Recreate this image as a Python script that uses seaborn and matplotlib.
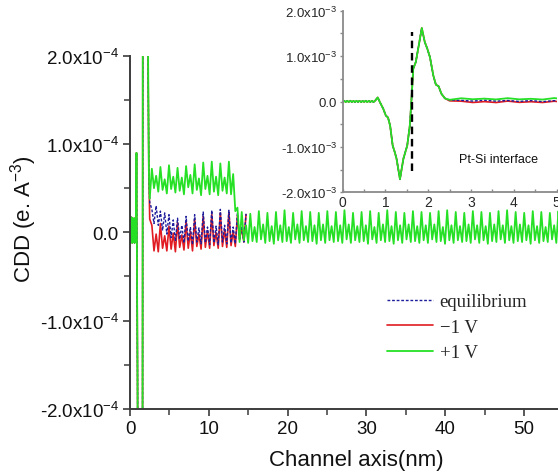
import numpy as np
import pandas as pd
import matplotlib
matplotlib.use("Agg")
import matplotlib.pyplot as plt
from matplotlib.ticker import MultipleLocator, FixedLocator, FixedFormatter
from matplotlib.lines import Line2D
import seaborn as sns

# Charge density difference (CDD) along the channel axis, in units of 1e-5 e/A^3.
# Pt-Si interface profile, common to all three bias conditions.
x_interface = [0.000, 0.036, 0.072, 0.108, 0.144, 0.180, 0.216, 0.252, 0.288, 0.324,
               0.360, 0.396, 0.432, 0.468, 0.504, 0.540, 0.576, 0.612, 0.648, 0.684,
               0.720, 0.756,
               0.82, 0.88, 0.95, 1.01, 1.06, 1.11, 1.17, 1.22, 1.26, 1.34,
               1.42, 1.51, 1.57, 1.61, 1.65, 1.71, 1.78, 1.85, 1.92, 1.98,
               2.04, 2.12, 2.18, 2.24, 2.31, 2.39]
cdd_interface = [0.0, 1.6, -1.2, 1.5, -1.1, 1.7, -1.0, 1.4, -1.2, 1.6,
                 -0.9, 1.5, -1.1, 1.3, -1.0, 1.6, -1.2, 1.4, -0.9, 1.5,
                 -1.1, 1.4,
                 9.0, -3.0, -16, -31, -35, -53, -97, -112, -126, -171,
                 -126, -97, -53, 6, 72, 87, 124, 162, 131, 116,
                 98, 57, 37, 34, 17, 7]

# Silicon channel, sampled every quarter of the 1.086 nm superlattice period
channel_start = 2.5
channel_step = 0.2715

cdd_plus1V = [
    3.8, 7.2, 5.0, 6.4, 4.6, 7.4, 4.8, 6.0,
    4.4, 7.6, 4.9, 6.3, 4.5, 7.3, 4.7, 6.2,
    4.3, 7.5, 5.1, 6.5, 4.4, 7.7, 4.8, 6.1,
    4.2, 7.9, 4.9, 6.4, 4.3, 8.0, 4.6, 6.3,
    4.2, 7.8, 4.7, 6.2, 4.4, 8.0,
    4.3, 6.6, 2.4, 2.8,
    -1.1, 2.3, -0.9, 0.8, -1.2, 2.1, -1.0, 0.6,
    -1.1, 2.4, -0.8, 0.9, -1.2, 2.2, -1.0, 0.7,
    -1.3, 2.3, -0.9, 0.8, -1.1, 2.5, -1.0, 0.6,
    -1.2, 2.2, -0.8, 0.9, -1.2, 2.4, -0.9, 0.7,
    -1.1, 2.3, -1.0, 0.8, -1.3, 2.2, -0.9, 0.9,
    -1.2, 2.4, -0.9, 0.7, -1.1, 2.3, -1.0, 0.8,
    -1.2, 2.5, -0.8, 0.9, -1.2, 2.2, -0.9, 0.7,
    -1.1, 2.3, -1.0, 0.8, -1.3, 2.4, -0.8, 0.6,
    -1.2, 2.2, -0.9, 0.9, -1.1, 2.5, -1.0, 0.7,
    -1.3, 2.3, -0.9, 0.8, -1.2, 2.2, -0.8, 0.9,
    -1.1, 2.4, -1.0, 0.7, -1.2, 2.3, -0.9, 0.8,
    -1.2, 2.2, -0.8, 0.9, -1.1, 2.4, -1.0, 0.6,
    -1.3, 2.5, -0.9, 0.8, -1.2, 2.3, -0.9, 0.7,
    -1.1, 2.2, -1.0, 0.9, -1.2, 2.4, -0.8, 0.8,
    -1.2, 2.3, -0.9, 0.7, -1.3, 2.2, -1.0, 0.9,
    -1.1, 2.4, -0.8, 0.8, -1.2, 2.5, -0.9, 0.7,
    -1.2, 2.3, -1.0, 0.9, -1.1, 2.2, -0.9, 0.8,
    -1.3, 2.4, -0.9, 0.7, -1.2, 2.3, -1.0, 0.6,
    -1.1, 2.2, -0.8, 0.8, -1.2, 2.4, -0.9, 0.7,
]

cdd_minus1V = [
    1.5, 0.8, -2.1, -0.2, -2.2, 1.0, -1.8, -0.4,
    -2.1, 0.7, -1.9, -0.1, -2.2, 1.1, -1.7, -0.3,
    -2.0, 1.2, -1.8, 0.1, -2.1, 1.5, -1.6, -0.2,
    -1.9, 1.8, -1.7, 0.2, -1.8, 2.0, -1.5, 0.0,
    -1.8, 2.2, -1.6, 0.3, -1.7, 2.3, -1.5, 0.1,
    -1.6, 1.9, -0.8, 0.5, -1.1, 2.0,
]

cdd_equilibrium = [
    3.4, 2.6, 1.0, 3.0, 0.8, 2.4, 0.2, 2.2,
    -0.2, 2.0, -0.6, 1.4, -1.0, 1.6, -0.8, 0.8,
    -1.2, 1.8, -1.0, 0.6, -1.4, 2.0, -1.1, 0.5,
    -1.3, 2.3, -1.2, 0.6, -1.4, 2.5, -1.2, 0.7,
    -1.4, 2.6, -1.1, 0.8, -1.3, 2.5, -1.2, 0.6,
    -1.3, 2.2, -0.9, 0.7, -1.1, 2.1,
]

series_names = ["equilibrium", "\u22121 V", "+1 V"]
series_values = [cdd_equilibrium, cdd_minus1V, cdd_plus1V]
series_colors = {"equilibrium": "#1c1c9c", "\u22121 V": "#e01c22", "+1 V": "#25e025"}

main_yticks = [-2e-4, -1e-4, 0.0, 1e-4, 2e-4]
main_yticklabels = ["-2.0x10$^{-4}$", "-1.0x10$^{-4}$", "0.0", "1.0x10$^{-4}$", "2.0x10$^{-4}$"]
inset_yticks = [-2e-3, -1e-3, 0.0, 1e-3, 2e-3]
inset_yticklabels = ["-2.0x10$^{-3}$", "-1.0x10$^{-3}$", "0.0", "1.0x10$^{-3}$", "2.0x10$^{-3}$"]

interface_position = 1.61
interface_marker_span = (-1.52e-3, 1.53e-3)

# Assemble one long table
frames = []
for name, vals in zip(series_names, series_values):
    x_chan = channel_start + channel_step * np.arange(len(vals))
    x_all = np.concatenate([x_interface, x_chan])
    y_all = np.concatenate([cdd_interface, vals]) * 1e-5
    frames.append(pd.DataFrame({"x": x_all, "cdd": y_all, "bias": name}))
df = pd.concat(frames, ignore_index=True)

sns.set_style("ticks")
plt.rcParams["font.family"] = ["Liberation Sans", "DejaVu Sans"]
plt.rcParams["mathtext.fontset"] = "custom"
plt.rcParams["mathtext.rm"] = "Liberation Sans"
plt.rcParams["mathtext.it"] = "Liberation Sans:italic"
plt.rcParams["mathtext.bf"] = "Liberation Sans:bold"
# keep every sub-pixel wiggle of the dense traces
plt.rcParams["path.simplify"] = False

fig = plt.figure(figsize=(5.58, 4.77), dpi=100)
ax = fig.add_axes([0.233, 0.1405, 0.767, 0.7407])

line_styles = {
    "equilibrium": dict(lw=1.0, dashes=(2.0, 1.3)),
    "\u22121 V": dict(lw=1.2),
    "+1 V": dict(lw=1.3),
}
draw_order = ["\u22121 V", "equilibrium", "+1 V"]


def draw_series(axis, width_scale=1.0):
    for name in draw_order:
        sub = df[df["bias"] == name]
        st = dict(line_styles[name])
        st["lw"] = st["lw"] * width_scale
        sns.lineplot(data=sub, x="x", y="cdd", ax=axis, color=series_colors[name],
                     estimator=None, sort=False, legend=False, **st)


draw_series(ax)

spine_color = "#3c3c3c"
ax.set_xlim(0, 54.3)
ax.set_ylim(-2e-4, 2e-4)
ax.xaxis.set_major_locator(MultipleLocator(10))
ax.xaxis.set_minor_locator(MultipleLocator(5))
ax.yaxis.set_major_locator(FixedLocator(main_yticks))
ax.yaxis.set_major_formatter(FixedFormatter(main_yticklabels))
ax.yaxis.set_minor_locator(MultipleLocator(0.5e-4))
for side in ["top", "right"]:
    ax.spines[side].set_visible(False)
for side in ["left", "bottom"]:
    ax.spines[side].set_color(spine_color)
    ax.spines[side].set_linewidth(1.4)
ax.tick_params(which="major", direction="out", length=5, width=1.2, color=spine_color,
               labelsize=13.5, labelcolor="#111111", pad=3)
ax.tick_params(which="minor", direction="out", length=4, width=1.1, color=spine_color)
ax.set_xlabel("Channel axis(nm)", fontsize=16, color="#111111")
ax.set_ylabel("CDD (e. A$^{-3}$)", fontsize=16, color="#111111")
ax.xaxis.set_label_coords(0.528, -0.113)
ax.yaxis.set_label_coords(-0.212, 0.54)

# Legend
handles = []
for name in series_names:
    st = line_styles[name]
    h = Line2D([0], [0], color=series_colors[name], lw=st["lw"])
    if "dashes" in st:
        h.set_dashes(st["dashes"])
    handles.append(h)
leg = ax.legend(handles=handles, labels=series_names, loc="upper left",
                bbox_to_anchor=(387 / 558, 1 - 294 / 477), bbox_transform=fig.transFigure,
                frameon=False, borderpad=0, borderaxespad=0, handlelength=2.45,
                handletextpad=0.35, labelspacing=0.45,
                prop={"family": "Liberation Serif", "size": 13.5})

# Inset: full interface profile
axin = fig.add_axes([0.614, 0.5947, 0.3835, 0.3807])
axin.set_facecolor("white")
draw_series(axin, width_scale=1.0)
axin.vlines(interface_position, *interface_marker_span, colors="black",
            linestyles=(0, (3.2, 2.0)), lw=1.7)
axin.text(2.72, -1.26e-3, "Pt-Si interface", fontsize=9, color="#111111", va="center")
axin.set_xlim(0, 5)
axin.set_ylim(-2e-3, 2e-3)
axin.xaxis.set_major_locator(MultipleLocator(1))
axin.xaxis.set_minor_locator(MultipleLocator(0.5))
axin.yaxis.set_major_locator(FixedLocator(inset_yticks))
axin.yaxis.set_major_formatter(FixedFormatter(inset_yticklabels))
axin.yaxis.set_minor_locator(MultipleLocator(0.5e-3))
axin.set_xlabel("")
axin.set_ylabel("")
inset_color = "#8a8a8a"
for side in ["top", "right"]:
    axin.spines[side].set_visible(False)
for side in ["left", "bottom"]:
    axin.spines[side].set_color(inset_color)
    axin.spines[side].set_linewidth(1.3)
axin.tick_params(axis="x", which="both", direction="in", length=2.5, width=1.0,
                 color=inset_color, labelsize=10, pad=2)
axin.tick_params(axis="y", which="both", direction="out", length=2.5, width=1.0,
                 color=inset_color, labelsize=9.5, pad=1.5)

fig.savefig("out.png", dpi=100)
